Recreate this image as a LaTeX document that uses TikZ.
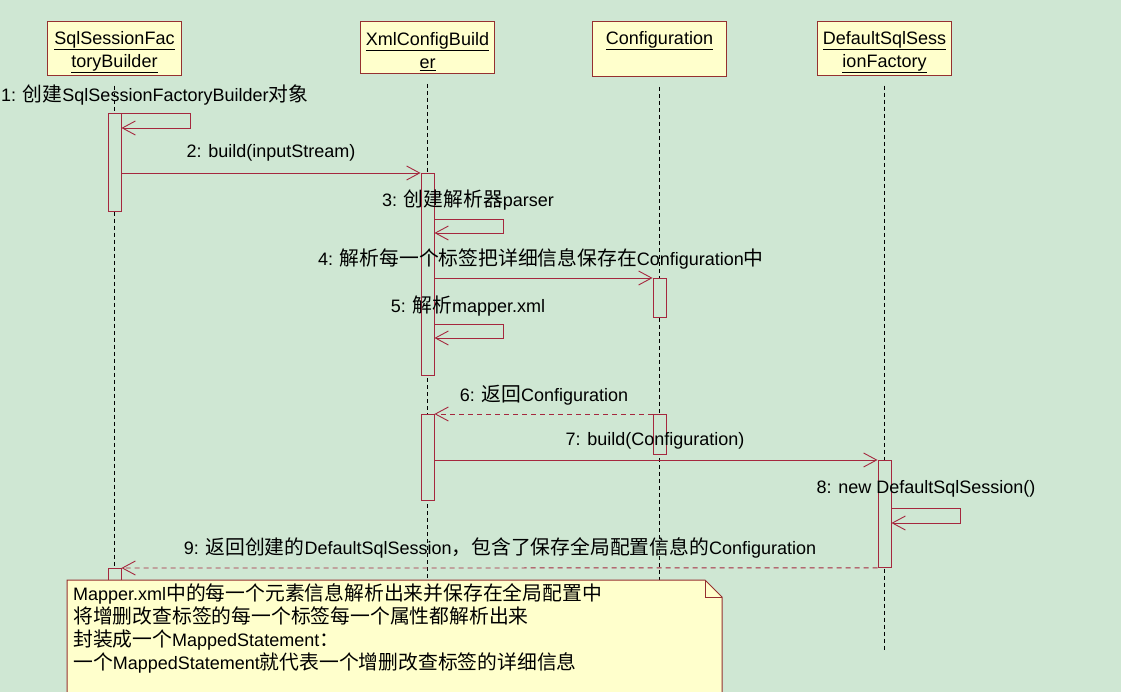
\documentclass[tikz,border=0pt]{standalone}
\usepackage{fontspec}
\setmainfont{Liberation Sans}
\newfontfamily\cjk[Scale=1.1]{Noto Sans CJK SC}
\usetikzlibrary{arrows.meta,positioning}

\definecolor{bggreen}{RGB}{207,231,211}
\definecolor{seqred}{RGB}{165,40,62}
\definecolor{boxred}{RGB}{150,48,48}
\definecolor{noteyellow}{RGB}{255,255,204}
\newcommand{\zh}[1]{{\cjk #1}}
\newcommand{\headstrut}{\rule{0pt}{21pt}}

\tikzset{
  headbox/.style={draw=boxred, fill=noteyellow, line width=1pt, minimum width=134pt,
    minimum height=52pt, align=center, inner sep=2pt, anchor=north},
  lifeline/.style={black, line width=1.2pt, dash pattern=on 4pt off 3pt},
  actbar/.style={draw=seqred, fill=bggreen, line width=0.9pt, minimum width=13pt,
    inner sep=0pt, anchor=north},
  msg/.style={seqred, line width=0.9pt, -{Straight Barb[length=13pt,width=14pt]}},
  retmsg/.style={msg, dash pattern=on 5pt off 4pt},
  msglabel/.style={inner sep=0pt}
}

\begin{document}
\begin{tikzpicture}[x=1pt, y=-1pt, font=\fontsize{18}{23}\selectfont]

    % 0. Fondo
    \useasboundingbox (0,0) rectangle (1121,692);
    \clip (0,0) rectangle (1121,692);
    \fill[bggreen] (0,0) rectangle (1121,692);

    % 1. Cabeceras de los objetos
    \node[headbox] (ssfb) at (114.5,21) {\headstrut\underline{SqlSessionFac}\\\underline{toryBuilder}};
    \node[headbox] (xcb)  at (427.5,21) {\headstrut\underline{XmlConfigBuild}\\\underline{er}};
    \node[headbox] (conf) at (659.5,21) {\headstrut\underline{Configuration}\\\strut};
    \node[headbox] (dssf) at (884.5,21) {\headstrut\underline{DefaultSqlSess}\\\underline{ionFactory}};

    % 2. Lineas de vida
    \foreach \obj in {ssfb,xcb,conf,dssf} {
        \draw[lifeline] (\obj.south) ++(0,10) -- ++(0,564);
    }

    % 3. Barras de activacion
    \node[actbar, minimum height=98pt]  (a1) at (114.5,113) {};
    \node[actbar, minimum height=202pt] (x1) at (427.5,173) {};
    \node[actbar, minimum height=39pt]  (c1) at (659.5,278) {};
    \node[actbar, minimum height=86pt]  (x2) at (427.5,414) {};
    \node[actbar, minimum height=40pt]  (c2) at (659.5,414) {};
    \node[actbar, minimum height=107pt] (d1) at (884.5,460) {};
    \node[actbar, minimum height=20pt]  (a2) at (114.5,568) {};

    % 4. Mensajes
    \node[msglabel, anchor=west] (l1) at (1,95) {1: \zh{创建}SqlSessionFactoryBuilder\zh{对象}};
    \draw[msg] (a1.north east) -- ++(69,0) -- ++(0,15) -- ++(-69,0);

    \node[msglabel] (l2) at (271,153) {2: build(inputStream)};
    \draw[msg] (a1.east |- x1.north) -- (x1.north west);

    \node[msglabel] (l3) at (468,200) {3: \zh{创建解析器}parser};
    \draw[msg] (x1.north east) ++(0,46) -- ++(69,0) -- ++(0,14) -- ++(-69,0);

    \node[msglabel] (l4) at (541,259) {4: \zh{解析每一个标签把详细信息保存在}Configuration\zh{中}};
    \draw[msg] (x1.east |- c1.north) -- (c1.north west);

    \node[msglabel] (l5) at (468,306) {5: \zh{解析}mapper.xml};
    \draw[msg] (x1.north east) ++(0,151) -- ++(69,0) -- ++(0,14) -- ++(-69,0);

    \node[msglabel] (l6) at (544,395) {6: \zh{返回}Configuration};
    \draw[retmsg] (c2.north west) -- (x2.north east);

    \node[msglabel] (l7) at (655,441) {7: build(Configuration)};
    \draw[msg] (x2.east |- d1.north) -- (d1.north west);

    \node[msglabel] (l8) at (926,489) {8: new DefaultSqlSession()};
    \draw[msg] (d1.north east) ++(0,48) -- ++(69,0) -- ++(0,15) -- ++(-69,0);

    \node[msglabel] (l9) at (500,548) {9: \zh{返回创建的}DefaultSqlSession\zh{，包含了保存全局配置信息的}Configuration};
    \draw[retmsg] (d1.south west) -- (a2.north east);

    % 5. Nota con esquina doblada
    \draw[boxred, fill=noteyellow, line width=1pt]
        (67,580) -- (705,580) -- (722,597) -- (722,700) -- (67,700) -- cycle;
    \draw[boxred, line width=1pt] (705,580) -- (705,597) -- (722,597);
    \node[msglabel, anchor=north west, align=left] (nota) at (73,583) {%
        Mapper.xml\zh{中的每一个元素信息解析出来并保存在全局配置中}\\
        \zh{将增删改查标签的每一个标签每一个属性都解析出来}\\
        \zh{封装成一个}MappedStatement\zh{：}\\
        \zh{一个}MappedStatement\zh{就代表一个增删改查标签的详细信息}};

\end{tikzpicture}
\end{document}
